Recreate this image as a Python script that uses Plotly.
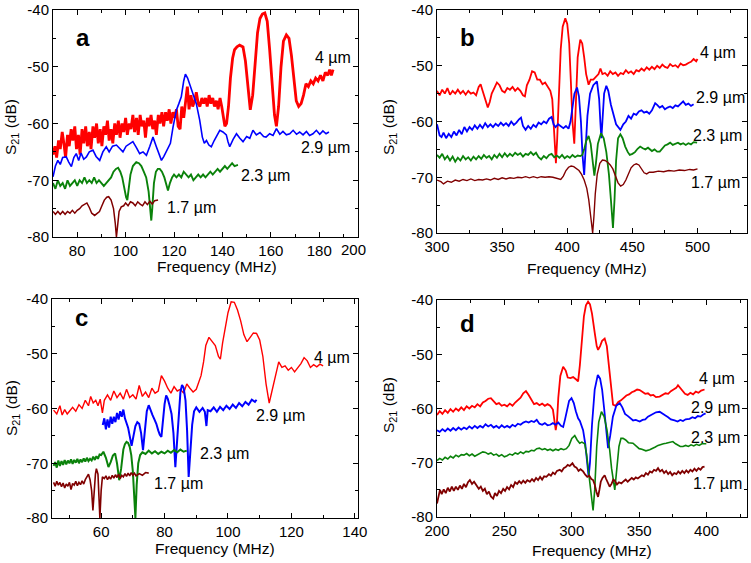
import plotly.graph_objects as go

W, H = 751, 563
FONT = "Arial, 'Liberation Sans', Helvetica, sans-serif"

RED = "#ff0000"
BLUE = "#0000ff"
GREEN = "#0a820a"
DRED = "#800000"

# ---------------- data (frequency MHz, S21 dB) ----------------
# Panel a
a_red = [(70,-65.5),(70.8,-64),(71.5,-66),(72.3,-63),(73,-64.5),(73.8,-61.5),(74.5,-63.5),(75.2,-66),(76,-62),(76.7,-64),
         (77.5,-61),(78.2,-63),(79,-60.5),(79.7,-64.5),(80.5,-62),(81.2,-65.5),(82,-61),(82.7,-63.5),(83.5,-60.5),(84.2,-64),
         (85,-61.5),(85.7,-64.5),(86.5,-60.5),(87.2,-62.5),(88,-60),(88.7,-63.5),(89.5,-61),(90.2,-64),(91,-60.5),(91.7,-62),
         (92.5,-59.5),(93.2,-63),(94,-61),(94.7,-63.5),(95.5,-60),(96.2,-62),(97,-59.5),(97.7,-62.5),(98.5,-60),(99.2,-61.5),
         (100,-59),(100.7,-62),(101.5,-60),(102.2,-61),(103,-58.5),(103.7,-61.5),(104.5,-59),(105.2,-62),(106,-58.5),(106.7,-60.5),
         (107.5,-59.5),(108.2,-62.5),(109,-59),(109.7,-60.5),(110.5,-58.5),(111.2,-61),(112,-59.5),(112.7,-62),(113.5,-58.5),(114.2,-60),
         (115,-58),(115.7,-60.5),(116.5,-58),(117.2,-59.5),(118,-57.5),(118.7,-60),(119.5,-58),(120.2,-59),(121,-57.5),(121.7,-60.5),
         (122.5,-61),(123.2,-57),(124,-59),(124.7,-56.5),(125.5,-53.5),(126.2,-57.5),(127,-55),(127.7,-57),(128.5,-56),(129.2,-54.5),
         (130,-56.5),(130.7,-57),(131.5,-55.5),(132.2,-56.5),(133,-55.5),(133.7,-57),(134.5,-55),(135.2,-56.5),(136,-55.5),(136.7,-57),
         (137.5,-56),(138.2,-57.5),(139,-55.5),(139.7,-57),(140.3,-58.5),(141,-60.5),(141.7,-60),(142.5,-57),(143.3,-52),(144.2,-48.5),
         (145,-47),(146,-46.5),(147.1,-46.2),(148.5,-46.5),(149.5,-49),(150.5,-54),(151.5,-57.6),(152.5,-55),(153.5,-49),(154.5,-44),
         (155.5,-41.5),(156.5,-40.7),(157.5,-40.5),(158.5,-42),(159.5,-47),(160.5,-53),(161.5,-58.5),(162.3,-60.5),(163.2,-57),(164.2,-50),
         (165.2,-45.5),(166.4,-44.4),(167.5,-45),(168.5,-48),(169.5,-52.5),(170.5,-56),(171.5,-57),(172.5,-56.5),(173.5,-55),(174.5,-53),
         (175.5,-53.5),(176.5,-52.5),(177.5,-53),(178.5,-52),(179.5,-52.5),(180.5,-51.5),(181.5,-52.5),(182.5,-51),(183.5,-51.5),(184.3,-50.5),
         (185,-51.5),(185.7,-50.5)]
a_blue = [(70,-69.4),(71,-67.5),(72,-66.5),(73,-67.2),(74,-66),(75.5,-65.9),(76.5,-66.8),(77.6,-67.6),(78.6,-66),(79.6,-65.3),
          (80.6,-66.5),(81.6,-65.2),(82.7,-66.3),(83.8,-65.9),(85,-65),(86.5,-64.7),(87.8,-65.8),(89.3,-66.5),(90.6,-65),(92,-64.1),
          (93.2,-65),(94.6,-64),(96.2,-63.8),(97.6,-64.5),(98.9,-65),(100.2,-64),(101.6,-63.6),(103,-63.2),(104.4,-64.2),(105.8,-65.3),
          (107.2,-65),(108.6,-65.6),(110,-64),(111.3,-62.4),(112.7,-64.1),(113.8,-65.5),(114.8,-66.5),(115.8,-65.8),(116.8,-65),(117.7,-64.2),
          (118.5,-63.5),(119.6,-60.6),(121,-57.6),(122,-56.5),(123,-55.3),(124,-52.5),(124.7,-51.3),(125.6,-52),(126.5,-53.2),(127.8,-54.8),
          (129.2,-56.5),(130.6,-59.4),(131.7,-62.4),(132.5,-63.5),(133.4,-63),(134.4,-63.8),(135.4,-64.1),(136.6,-63),(137.8,-62),(138.9,-61.2),
          (140.2,-61.5),(141.6,-62),(142.3,-63.2),(143,-64.1),(144.4,-62.8),(145.8,-61.8),(147.2,-62.6),(148.5,-63.2),(150,-62.3),(151.3,-62.6),
          (152.6,-61.2),(154,-62),(155.5,-61.6),(157,-62.3),(158,-62.4),(159.5,-61.8),(160.9,-62.1),(162.3,-60.9),(163.7,-61.9),(165,-61.4),
          (166.4,-62),(167.8,-61.8),(169.2,-61.2),(170.6,-61.9),(171.9,-61.5),(173.3,-62),(174.7,-61.4),(176,-62.1),(177.4,-61.8),(178.8,-61.2),
          (180.2,-61.9),(181.5,-61.3),(182.8,-61.8),(184,-61.5)]
a_green = [(70,-70.5),(71,-71.5),(72,-70),(73,-71),(74,-70.5),(75,-71.5),(76,-70),(77,-71),(78,-70.5),(79,-70),
           (80,-71),(81,-70),(82,-70.5),(83,-69.5),(84,-70.5),(85,-70),(86,-70.5),(87,-69.5),(88,-70.5),(89,-70),
           (90,-70.5),(91,-71),(92,-70.5),(93,-70),(94,-69.5),(95,-68.5),(96,-68),(96.9,-67.8),(97.8,-68.5),(98.6,-69.5),
           (99.4,-71.5),(100.2,-73),(100.7,-73.5),(101.2,-72),(102,-69),(103,-67.5),(104.4,-66.8),(105.5,-67),(106.5,-67.5),(107.5,-68.5),
           (108.5,-69.5),(109.5,-72),(110.2,-75.5),(110.6,-77.1),(111,-75),(111.7,-70.5),(112.5,-68.5),(113.3,-68),(114.1,-68),(115,-68.5),
           (116,-69.5),(116.8,-71),(117.5,-71.8),(118.3,-70.5),(119.2,-69.5),(120,-69),(121,-69.5),(122,-69),(123,-69.5),(124,-68.5),
           (125,-69),(126,-69.5),(127,-69),(128,-70),(129,-69.5),(130,-69),(131,-69.5),(132,-69),(133,-69.5),(134,-69),
           (135,-68.5),(136,-69),(137,-68.5),(138,-68),(139,-68.5),(140,-68),(141,-67.5),(142,-68),(143,-67.5),(144,-67),
           (145,-67.5),(146.4,-67.3)]
a_dred = [(70,-75.5),(71,-76),(72,-75.5),(73,-76),(74,-75.5),(75,-76),(76,-75.5),(77,-75.8),(78,-75.3),(79,-75.8),
          (80,-75.3),(81,-75),(82,-74.5),(83,-74.2),(84,-74),(85,-74.8),(86,-75.8),(87.2,-76.2),(88.2,-75.8),(89.2,-75.5),
          (90.2,-74.5),(91.2,-73.5),(92.2,-73),(93,-72.9),(94,-73.5),(95,-75),(95.7,-77.5),(96.2,-80),(96.7,-78),(97.3,-75.5),
          (98.2,-74.7),(99.2,-74.5),(100,-74),(101,-74.5),(102,-73.8),(103,-74),(104,-74.5),(105,-73.8),(106,-74.2),(107,-74.5),
          (108,-73.8),(109,-74.3),(110,-73.7),(111,-74.2),(112,-73.6),(113.4,-73.5)]

# Panel b
b_red = [(300,-54.5),(302,-55.3),(304,-54.3),(306,-55),(308,-54),(310,-55.2),(312,-54.5),(314,-55),(316,-54.3),(318,-55),
         (320,-54.5),(322,-55.2),(324,-54.5),(326,-55),(328,-54.8),(330,-55.3),(332,-53.8),(333.5,-53.3),(335,-54.5),(337,-56),
         (339,-57.5),(340.5,-56.5),(342,-55),(344,-54),(346,-53),(348,-53.5),(350,-54.5),(352,-54.8),(354,-54),(356,-54.3),
         (358,-53.8),(360,-54.5),(362,-54),(364,-54.5),(366,-55.3),(367.5,-55.5),(369,-53.5),(371,-52.5),(373,-51),(375,-51.2),
         (377,-52.5),(379,-52.5),(381,-53.3),(383,-53),(385,-53.8),(387,-54.5),(388.5,-56),(389.5,-60),(390.5,-65),(391.3,-67.5),
         (392.3,-63),(393.5,-55),(395,-47),(396.5,-43),(398.5,-41.5),(400,-42.5),(401.5,-46),(402.8,-53),(404,-60),(405.4,-64),
         (406.5,-57),(408,-48.5),(410,-45.3),(411.5,-46),(413,-48.5),(414.5,-51.5),(416.4,-53.4),(418,-52.5),(420,-52.5),(422,-52),
         (424,-51.5),(425.5,-50.5),(427,-51.5),(429,-51.3),(431,-51.8),(433,-51),(435,-51.5),(437,-51.2),(439,-51.8),(441,-51.3),
         (443,-51.5),(445,-50.8),(447,-51.3),(449,-51),(451,-51.5),(453,-50.8),(455,-51),(457,-50.5),(459,-50.9),(461,-50.3),
         (463,-50.7),(465,-50.2),(467,-50.6),(469,-50),(471,-50.4),(473,-49.8),(475,-50.2),(477,-50.4),(479,-49.7),(481,-50.1),
         (483,-49.9),(485,-50.3),(487,-49.6),(489,-49.9),(491,-49.8),(493,-49.5),(495,-49.3),(497,-48.8),(499,-49.2),(500,-48.8)]
b_blue = [(300,-60.5),(301,-61.5),(302,-62.5),(303.5,-62.8),(305,-62),(307,-63),(309,-62.2),(311,-62.8),(313,-61.8),(315,-62.5),
          (317,-61.5),(319,-62.3),(321,-61),(323,-61.8),(325,-61),(327,-61.5),(329,-60.7),(331,-61.3),(333,-60.6),(335,-61.2),
          (337,-60.3),(339,-61),(341,-60.5),(343,-61),(345,-60.4),(347,-60.8),(349,-60.2),(351,-60.7),(353,-60.3),(355,-60.8),
          (357,-60),(359,-60.6),(361,-60.2),(363,-59.6),(364.5,-59.3),(366,-60.8),(368,-61.5),(370,-60.8),(372,-61.3),(374,-60.6),
          (376,-61),(378,-60.2),(380,-60.5),(382,-60),(384,-60.3),(386,-59.5),(388,-59.2),(389.5,-60.5),(391,-61),(393,-60.5),
          (395,-60.8),(397,-61.2),(399,-60.8),(401,-61.3),(402.5,-60),(404,-57.5),(405.5,-55),(407.5,-53.9),(409,-55.5),(410.5,-60),
          (411.7,-66),(413,-69.6),(414,-66),(415.5,-59),(417.5,-55),(420,-53.5),(422.8,-52.8),(424.5,-56),(425.5,-60.5),(426.2,-63),
          (427,-60),(428.3,-55),(430,-53.6),(431.5,-54.5),(433.5,-57),(435.5,-59),(437.5,-60.5),(440.8,-61.5),(443,-60.5),(445,-60),
          (447,-59),(449,-59.5),(451,-58.6),(453,-58.8),(455,-58.2),(457,-58),(459,-58.4),(461,-58.2),(463,-58.6),(465,-58),
          (467.5,-56.7),(469,-57),(471,-57.5),(473,-57.2),(475,-57.8),(477,-57.5),(479,-57.3),(481,-57.6),(483,-57.1),(485,-57.3),
          (487,-56.9),(489,-56.4),(491,-57),(493,-56.8),(495,-57.2),(497,-56.9)]
b_green = [(300,-66),(302,-66.5),(304,-65.8),(306,-66.8),(308,-66.2),(310,-67),(312,-66.3),(314,-67.2),(316,-66.5),(318,-67),
           (320,-66.2),(322,-66.8),(324,-66.4),(326,-67),(328,-66.3),(330,-66.8),(332,-66.2),(334,-66.7),(336,-66),(338,-66.5),
           (340,-66.2),(342,-66.8),(344,-66),(346,-66.5),(348,-65.8),(350,-66.4),(352,-65.7),(354,-66.3),(356,-65.8),(358,-66.2),
           (360,-65.6),(362,-66),(364,-65.7),(366,-66.3),(368,-65.8),(370,-66),(372,-65.5),(374,-66),(376,-65.6),(378,-66.4),
           (380,-66.8),(382,-66.2),(384,-66.6),(386,-66),(388,-65.8),(390,-66.4),(392,-66.1),(394,-66.5),(396,-66),(398,-66.6),
           (400,-66.2),(402,-66.5),(404,-66),(406,-66.4),(408,-66.1),(410,-66.2),(411.5,-66),(413,-65),(414.5,-63.5),(416.4,-62.6),
           (418,-64),(419.5,-67),(420.8,-69.7),(422,-67.5),(423.5,-64),(425.9,-62.1),(428,-63),(430,-65.5),(432,-69.5),(433.5,-74),
           (435.1,-79.1),(436.3,-74),(437.5,-67),(439,-63),(440.8,-62.3),(442.5,-63),(444.5,-64.5),(446.5,-65.5),(448,-66),(450,-65.8),
           (452,-65.5),(454,-64.9),(456,-64.5),(458,-64.8),(460,-65),(462,-64.7),(465,-65.3),(467,-65),(469,-65.4),(471,-65.4),
           (473,-64.8),(475,-64.3),(477,-64.1),(479,-63.8),(481,-64.2),(483,-64),(485,-63.8),(487,-64.1),(489,-63.9),(491,-64.2),
           (493,-63.9),(495,-64.1),(497,-63.7),(499.7,-63.8)]
b_dred = [(300,-70.5),(303,-70.8),(305,-71.2),(308,-70.7),(311,-70.9),(314,-70.5),(317,-70.7),(320,-70.4),(323,-70.6),(326,-70.3),
          (329,-70.6),(332,-70.4),(335,-70.5),(338,-70.3),(341,-70.5),(344,-70.2),(347,-70.4),(350,-70.1),(353,-70.3),(356,-70.1),
          (359,-70.2),(362,-70),(365,-70.1),(368,-69.9),(371,-70.1),(374,-69.9),(377,-70.1),(380,-69.9),(383,-70),(386,-69.9),
          (389,-70),(392,-70.2),(395,-70.4),(397,-69.8),(399,-68.8),(401,-68.2),(403,-68),(405,-68.1),(407,-68.4),(409,-68.8),
          (411,-69.5),(413,-70.5),(415,-72),(416.5,-74),(418,-77),(419.5,-80),(420.5,-77),(421.5,-73),(423,-69.5),(425,-67.5),
          (427,-66.9),(429,-67),(431,-67.3),(433,-67.8),(435,-68.5),(437,-69.8),(439,-71),(441,-71.6),(443,-71.3),(445,-70.5),
          (447,-69.3),(449,-68.3),(451,-67.8),(453,-67.6),(455,-67.8),(457,-68.5),(459,-69.2),(461,-69.4),(463,-69.1),(466,-69.1),
          (470,-68.9),(474,-69),(478,-68.8),(482,-68.9),(486,-68.7),(490,-68.8),(494,-68.6),(497,-68.7),(500,-68.5)]

# Panel c
c_red = [(45,-60.3),(46,-61),(47,-59.5),(47.7,-61.2),(48.5,-60.2),(49.3,-61),(50,-60.5),(51,-59.8),(52,-60.5),(53,-59.3),
         (54,-60),(55,-58.5),(56,-59.5),(56.7,-57.8),(57.5,-59),(58.3,-58.5),(59,-59.5),(59.7,-58.3),(60.4,-60.8),(61,-58.5),
         (62,-57.5),(63,-58.5),(64,-56.8),(65,-58),(66,-57.2),(67,-58.3),(68,-56.5),(69,-58),(70,-57.5),(71,-58.3),
         (72,-55.8),(73,-57.8),(74,-57),(75,-58),(76,-56.3),(77,-57.2),(78,-56.8),(79,-54),(80,-55),(81,-56.3),
         (82,-57.2),(83,-56),(84,-56.8),(85,-56.5),(86,-57.2),(87,-55.5),(88,-56.3),(89,-57),(90,-56.5),(90.8,-55),
         (91.5,-54),(92.3,-51.5),(93,-48.5),(94,-47),(95,-47.8),(96,-48.5),(97,-50.5),(97.6,-51),(98.3,-48),(99,-45.5),
         (100,-42.5),(101,-40.5),(102,-40.6),(103,-42),(104,-44),(105,-46.5),(106,-47.8),(107,-47),(108,-46.2),(109,-46.3),
         (110,-47.5),(111,-50.5),(112,-55.5),(113,-59),(114,-56.5),(115,-54.5),(116,-51.5),(117,-52.5),(118,-52.2),(119,-53),
         (120,-52.5),(121,-53.3),(122,-52.5),(123,-51.8),(124,-50.7),(125,-51.3),(126,-52.5),(127,-52),(128,-52.4),(129,-51.9),
         (130,-52.2)]
c_blue = [(60.5,-63),(61,-61.8),(61.5,-63.8),(62,-62),(62.5,-63.5),(63,-61.5),(63.5,-62.8),(64,-61.5),(64.5,-62.5),(65,-60.8),
          (65.5,-62),(66,-60.5),(66.5,-61.5),(67,-60.2),(67.5,-61.8),(68,-62.5),(68.5,-63.5),(69,-65),(69.6,-66.8),(70.2,-65),
          (70.8,-63.2),(71.4,-62.5),(72,-62.8),(72.6,-64.5),(73.2,-67.6),(73.8,-64),(74.4,-60.5),(75,-59.4),(75.6,-60.5),(76.2,-61.2),
          (76.8,-62),(77.4,-62.8),(78,-64),(78.5,-64.8),(79,-65.2),(79.5,-62),(80,-59.2),(80.5,-57.6),(81,-58.2),(81.6,-59.5),
          (82.2,-61),(82.8,-64.5),(83.4,-70.7),(84,-65.5),(84.6,-60),(85,-57),(85.5,-55.7),(86,-56.2),(86.6,-58.5),(87.1,-64),
          (87.6,-72.5),(88.1,-68),(88.7,-63),(89.3,-60.5),(90,-59.8),(91,-60.6),(92,-59.9),(92.7,-60.6),(93.2,-63.2),(93.6,-60.3),
          (94.5,-60.5),(95.5,-59.8),(96.5,-60.6),(97.5,-59.7),(98.5,-60.3),(99.5,-59.5),(100.5,-60.1),(101.5,-59.3),(102.5,-59.9),(103.5,-59),
          (104.5,-59.6),(105.5,-58.8),(106.5,-59.3),(107.5,-58.4),(108.5,-58.8),(109,-58.4)]
c_green = [(45,-70.5),(45.5,-69.8),(46,-70.8),(46.5,-69.5),(47,-70.5),(47.5,-69.6),(48,-70.3),(48.5,-69.4),(49,-70.2),(49.5,-69.5),
           (50,-70),(50.5,-69.3),(51,-70.1),(51.5,-69.4),(52,-69.9),(52.5,-69.2),(53,-70),(53.5,-69.3),(54,-69.8),(54.5,-69.1),
           (55,-69.7),(55.5,-69),(56,-69.6),(56.5,-69.2),(57,-69.5),(57.5,-68.8),(58,-69.4),(58.5,-68.7),(59,-69.2),(59.5,-68.4),
           (60,-68.5),(60.7,-67.9),(61.5,-69),(62.3,-70.7),(63,-69.8),(63.7,-68.6),(64.4,-68.2),(65,-70),(65.7,-73.1),(66.3,-71),
           (67,-67.5),(67.5,-66.5),(68,-66.1),(68.5,-66.3),(69,-67),(69.5,-68.5),(70,-71.5),(70.5,-76),(70.8,-80),(71.2,-74),
           (71.7,-70),(72.3,-68.5),(73,-68),(74,-68.3),(75,-67.7),(76,-68.2),(77,-67.8),(78,-68.3),(79,-67.9),(80,-68.2),
           (81,-67.7),(82,-68.1),(83,-67.6),(84,-68),(85,-67.5),(86,-67.9),(87,-67.7)]
c_dred = [(45,-73.5),(45.5,-74.2),(46,-73.3),(46.5,-74),(47,-73.5),(47.5,-74.3),(48,-73.6),(48.5,-74.5),(49,-73.8),(49.5,-74.2),
          (50,-73.5),(50.5,-74.8),(51,-73.7),(51.5,-74),(52,-73.3),(52.5,-74.1),(53,-73.5),(53.5,-73.9),(54,-73.2),(54.5,-73.8),
          (55,-73),(55.5,-72.5),(56,-72),(56.5,-73),(57,-75),(57.4,-78.6),(57.8,-75),(58.2,-72),(58.5,-71),(59,-72),
          (59.3,-76),(59.6,-80),(60,-75),(60.4,-72.5),(61,-72.8),(61.5,-72.3),(62,-73),(62.5,-72.5),(63,-72.9),(63.5,-72.2),
          (64,-72.7),(64.5,-72.1),(65,-72.6),(65.5,-72),(66,-72.8),(66.5,-72.2),(67,-72.5),(67.5,-71.9),(68,-72.4),(68.5,-71.8),
          (69,-72.3),(69.5,-71.7),(70,-72.2),(70.5,-71.8),(71,-72.3),(72,-71.9),(73,-72.2),(74,-71.7),(75,-71.8)]

# Panel d
d_red = [(200,-61.2),(202,-60.5),(204,-61),(206,-60.3),(208,-60.8),(210,-60.1),(212,-60.6),(214,-60),(216,-60.4),(218,-59.8),
         (220,-60.3),(222,-59.6),(224,-60),(226,-59.5),(228,-59.8),(230,-59.2),(232,-59.6),(234,-58.9),(236,-58.6),(238,-58.2),
         (240,-58.1),(242,-58.6),(244,-59.2),(246,-59),(248,-59.5),(250,-59.3),(252,-59.6),(254,-59.1),(256,-59.5),(258,-58.9),
         (260,-58.5),(262,-58),(264,-57.2),(266,-56.8),(268,-57.5),(270,-58.5),(272,-59.2),(274,-59),(276,-59.4),(278,-59.1),
         (280,-59.5),(282,-59.2),(284,-59.5),(286,-60.2),(287,-62),(288.1,-64),(289,-62.5),(290,-58),(291.5,-54),(293.6,-52.3),
         (295.5,-53),(297,-54.3),(299,-54.4),(301,-54.2),(303.5,-54.7),(304.7,-55),(306,-52),(307.5,-47),(309,-43),(310.5,-41),
         (312.1,-40.3),(313.5,-40.8),(315,-42.5),(317,-46),(318.5,-48.5),(319.5,-49.2),(321,-48.5),(322.5,-47.5),(324.4,-47.1),(326,-48.5),
         (327.5,-52),(329,-56),(330.6,-59.3),(332.5,-59.5),(334.5,-58.8),(336.5,-58.5),(338.5,-58),(340.5,-57.6),(342.5,-57.4),(344.5,-57),
         (346.5,-56.8),(348.5,-56.5),(350.4,-56.6),(352.5,-56.9),(354.5,-57.3),(356.5,-57.2),(358.5,-57.6),(360.5,-57.5),(362.5,-57.9),(365.2,-57.8),
         (367.5,-57.4),(369.5,-57.2),(371.5,-57.3),(373.5,-56.8),(375.5,-56.5),(377.5,-56.2),(378.8,-55.7),(380.5,-56.3),(382.5,-56.8),(384,-57.3),
         (386,-57.5),(388,-57.1),(390,-57.4),(392,-56.9),(394,-57.1),(396,-56.7),(398.5,-56.5)]
d_blue = [(200,-64),(202,-64.3),(204,-63.8),(206,-64.2),(208,-63.7),(210,-64.1),(212,-63.6),(214,-64),(216,-63.5),(218,-63.9),
          (220,-63.5),(222,-63.8),(224,-63.3),(226,-63.7),(228,-63.2),(230,-63.6),(232,-63.2),(234,-63.5),(236,-62.9),(238,-63.3),
          (240,-63),(242,-63.5),(244,-63.2),(246,-63.6),(248,-63.1),(250,-63.5),(252,-63.2),(254,-63.5),(256,-63),(258,-63.3),
          (260,-62.8),(262,-63),(264,-62.6),(266,-62.4),(268,-62.6),(270,-62.3),(272,-62.5),(274,-62.1),(276,-62.8),(278,-63),
          (280,-62.7),(282,-63.1),(284,-63),(286,-62.7),(288,-63),(290,-62.6),(292,-63.2),(293.6,-63.4),(295,-62),(296.5,-60),
          (298,-58.6),(299.8,-58.1),(301.5,-59),(303,-60.5),(304.7,-61.8),(306,-62.3),(308.4,-64),(310,-66.5),(311.5,-70),(312.5,-72.6),
          (313.5,-70),(315,-63),(317,-56.5),(319.3,-53.8),(321,-54.5),(322.5,-56.5),(324,-60),(325.5,-64),(326.9,-67.3),(328.5,-65),
          (330.5,-61.5),(333,-59.5),(335.6,-59),(337.5,-59.8),(339.5,-61),(341.7,-61.4),(343.5,-61.8),(345.5,-62.2),(347.5,-62.1),(350.4,-62.4),
          (352.5,-62.1),(354.5,-62),(356.5,-61.5),(358.5,-61.2),(360.5,-61),(362.5,-60.7),(365.2,-60.6),(367.5,-60.9),(369.5,-61.3),(371.5,-61.6),
          (373.5,-62),(376.3,-62.2),(378.5,-62.4),(380.5,-62.1),(382.5,-62.3),(384.5,-62),(387.4,-61.9),(389.5,-61.6),(391.5,-61.8),(393.5,-61.4),
          (395.5,-61.5),(397.5,-61.1),(399.3,-60.9)]
d_green = [(200,-69.6),(202,-69.2),(204,-69.5),(206,-69),(208,-69.3),(210,-68.8),(212,-69.1),(214,-68.6),(216,-68.9),(218,-68.5),
           (220,-68.6),(222,-68.3),(224,-68.7),(226,-68.4),(228,-68.8),(230,-68.5),(232,-68.3),(234,-68),(236,-68.1),(238,-68.4),
           (240,-68.2),(242,-68.6),(244,-68.4),(246,-68.8),(248,-68.5),(250,-68.9),(252,-68.7),(254,-68.4),(256,-68.6),(258,-68.2),
           (260,-68.4),(262,-68),(264,-68.3),(266,-67.9),(268,-68),(270,-67.7),(272,-67.8),(274,-67.4),(276,-67.3),(278,-67.6),
           (280,-67.4),(282,-67.7),(284,-67.5),(286,-67.8),(288,-67.5),(290,-67.7),(292,-67.4),(294,-67.6),(296,-67.4),(298,-66.8),
           (300,-65.5),(302.2,-65),(304,-65.8),(305.9,-66.4),(307.5,-66.2),(309.6,-66.5),(311,-68.5),(312.5,-71.5),(314,-75),(315.8,-78.8),
           (317,-75),(318.5,-67),(320,-62.5),(322,-60.6),(324,-61.5),(326,-63.8),(328.1,-67.6),(329.5,-71),(331.9,-75),(333.5,-71),
           (335,-67),(336.5,-65.5),(338,-65.5),(340,-65.8),(342,-66.3),(345.4,-66.4),(348,-67),(350,-67.4),(352,-67.5),(355,-67.8),
           (357.8,-67.6),(360,-67.4),(362,-67.1),(364,-66.8),(366,-66.6),(368,-66.5),(370,-66.4),(372,-66.3),(375,-66.1),(377,-66.5),
           (379,-66.8),(380.5,-67),(382.5,-67),(384.5,-66.8),(386.5,-67),(388.5,-66.7),(390.5,-66.9),(392.5,-66.6),(394.5,-66.8),(396.5,-66.5),
           (399.8,-66.5)]
d_dred = [(200,-77.5),(201,-76.2),(202.2,-75),(203.5,-75.8),(205,-74.9),(206.5,-75.6),(208,-74.6),(209.5,-75.3),(211,-74.4),(212.5,-75.2),
          (214,-74.4),(215.5,-75),(217,-74.2),(218.5,-74.8),(220,-73.9),(221.5,-74.5),(223,-73.6),(224.4,-73.2),(226,-73.9),(227.5,-73.5),
          (229.4,-74.2),(231,-74.8),(232.5,-74.4),(234,-75.2),(235.5,-74.8),(237,-75.8),(238.5,-75.3),(240,-76.2),(241.7,-76.6),(243,-75.6),
          (244.5,-76.1),(246,-75.2),(247.5,-75.6),(249.1,-74.8),(250.5,-75.2),(252,-74.5),(253.5,-74.9),(255,-74.1),(256.5,-74.5),(258,-73.6),
          (259.5,-73.9),(261,-73.4),(262.5,-73.8),(264,-73.3),(265.5,-73.7),(267,-73.2),(268.9,-73.5),(270.5,-73),(272,-73.4),(273.5,-72.8),
          (275,-73.2),(276.5,-72.6),(278,-73.1),(279.5,-72.5),(281.2,-72.6),(283,-72.1),(284.5,-72.4),(286,-71.8),(287.5,-72.1),(289,-71.5),
          (291.1,-71.3),(292.5,-71.6),(294,-71),(295.5,-70.8),(297,-70.4),(298.5,-70.6),(300.5,-70.1),(302,-70.7),(303.5,-70.9),(305,-71.5),
          (306.5,-71.2),(308.4,-71.6),(310,-72.2),(311.5,-72.6),(313,-72.4),(314.5,-73),(315.8,-73.2),(317,-74),(318.2,-75.3),(319.5,-76.3),
          (320.5,-75),(321.5,-73.5),(322.8,-72.8),(324.4,-72.3),(325.5,-73),(326.8,-73.8),(328.1,-74.4),(329.5,-73.9),(330.8,-73.1),(331.9,-73.3),
          (333.5,-74),(335,-73.6),(336.8,-73.8),(338.5,-73.4),(340,-73.1),(341.5,-73.5),(343,-73.2),(344.5,-72.8),(346,-73.1),(347.5,-72.7),
          (349,-72.9),(350.4,-72.6),(352,-72.3),(353.5,-72.5),(355,-71.9),(356.5,-72.2),(358,-71.6),(359.5,-71.8),(361,-71.3),(362.5,-71.5),
          (364,-71),(365.5,-71.6),(367,-71.3),(368.5,-71.9),(370,-71.5),(371.5,-72.1),(373,-71.7),(374.5,-72.3),(376,-71.9),(377.6,-72.1),
          (379,-71.6),(380.5,-72),(382,-71.5),(383.5,-71.9),(385,-71.4),(386.5,-71.8),(388,-71.3),(389.5,-71.6),(391,-71.1),(392.5,-71.5),
          (394,-71),(395.5,-71.3),(397,-70.8),(398.5,-70.7)]

# tick labels
y_ticks = [-80, -70, -60, -50, -40]
y_tick_text = ["-80", "-70", "-60", "-50", "-40"]
a_xticks = [80, 100, 120, 140, 160, 180]
b_xticks = [300, 350, 400, 450, 500]
c_xticks = [60, 80, 100, 120, 140]
d_xticks = [200, 250, 300, 350, 400]
series_labels = ["4 µm", "2.9 µm", "2.3 µm", "1.7 µm"]

# ---------------- figure ----------------
def px(X, Y):
    return X / W, 1 - Y / H

panels = [
    dict(sfx="", xdom=(53, 358), ydom=(10, 237), xr=[70, 196], xt=a_xticks, mt0=70, md=10,
         curves=[(a_red, RED, 2.8), (a_blue, BLUE, 1.6), (a_green, GREEN, 1.9), (a_dred, DRED, 1.5)]),
    dict(sfx="2", xdom=(437, 747), ydom=(10, 233), xr=[300, 538], xt=b_xticks, mt0=300, md=25,
         curves=[(b_red, RED, 1.8), (b_blue, BLUE, 1.8), (b_green, GREEN, 1.8), (b_dred, DRED, 1.4)]),
    dict(sfx="3", xdom=(52, 358), ydom=(299, 518), xr=[44.5, 141], xt=c_xticks, mt0=50, md=10,
         curves=[(c_red, RED, 1.4), (c_blue, BLUE, 2.0), (c_green, GREEN, 2.0), (c_dred, DRED, 1.6)]),
    dict(sfx="4", xdom=(437, 747), ydom=(300, 517), xr=[200, 430], xt=d_xticks, mt0=200, md=25,
         curves=[(d_red, RED, 1.8), (d_blue, BLUE, 1.8), (d_green, GREEN, 1.6), (d_dred, DRED, 1.8)]),
]

fig = go.Figure()
layout = dict(width=W, height=H, autosize=False,
              margin=dict(l=0, r=0, t=0, b=0, pad=0, autoexpand=False),
              paper_bgcolor="white", plot_bgcolor="white", showlegend=False,
              font=dict(family=FONT, color="black", size=15))

for p in panels:
    s = p["sfx"]
    for data, col, lw in p["curves"]:
        fig.add_trace(go.Scatter(x=[d[0] for d in data], y=[d[1] for d in data], mode="lines",
                                 line=dict(color=col, width=lw), xaxis="x" + s, yaxis="y" + s,
                                 hoverinfo="skip"))
    common = dict(showline=True, linecolor="black", linewidth=1, mirror="ticks", ticks="inside",
                  ticklen=5, tickwidth=1, tickcolor="black", showgrid=False, zeroline=False,
                  automargin=False, tickfont=dict(family=FONT, size=15, color="black"))
    layout["xaxis" + s] = dict(common, domain=[p["xdom"][0] / W, p["xdom"][1] / W], range=p["xr"],
                               anchor="y" + s, tickmode="array", tickvals=p["xt"],
                               ticktext=[str(v) for v in p["xt"]],
                               minor=dict(ticks="inside", ticklen=3, tickcolor="black",
                                          tickmode="linear", tick0=p["mt0"], dtick=p["md"]))
    layout["yaxis" + s] = dict(common, domain=[1 - p["ydom"][1] / H, 1 - p["ydom"][0] / H], range=[-80, -40],
                               anchor="x" + s, tickmode="array", tickvals=y_ticks, ticktext=y_tick_text,
                               minor=dict(ticks="inside", ticklen=3, tickcolor="black",
                                          tickmode="linear", tick0=-80, dtick=5))

ann = []
def text(X, Y, t, size=16, bold=False, angle=0):
    x, y = px(X, Y)
    ann.append(dict(x=x, y=y, xref="paper", yref="paper", text=("<b>%s</b>" % t) if bold else t,
                    showarrow=False, xanchor="center", yanchor="middle", textangle=angle,
                    font=dict(family=FONT, size=size, color="black")))

# panel letters
for X, Y, t in [(83, 37, "a"), (467, 37, "b"), (81, 317, "c"), (467, 323, "d")]:
    text(X, Y, t, size=24, bold=True)

# series labels
label_pos = [
    [(333, 58), (325, 147), (265, 175), (191, 207)],
    [(718, 52), (720, 97), (717, 135), (715, 182)],
    [(332, 357), (280, 415), (224, 453), (178, 483)],
    [(717, 378), (715, 407), (715, 437), (717, 483)],
]
for pos in label_pos:
    for (X, Y), t in zip(pos, series_labels):
        text(X, Y, t, size=16)

# axis titles
for X, Y in [(217, 266), (587, 268), (215, 548), (592, 550)]:
    text(X, Y, "Frequency (MHz)", size=15.5)
for X, Y in [(12, 127), (390, 127), (12, 408), (390, 405)]:
    text(X, Y, "S<sub>21</sub> (dB)", size=15.5, angle=-90)

# stray "200" label at right end of panel a axis
text(353, 249, "200", size=15)

layout["annotations"] = ann
fig.update_layout(**layout)
fig.write_html("out.html", config={"displayModeBar": False, "staticPlot": True},
               post_script="document.body.style.margin='0';document.body.style.padding='0';"
                           "document.documentElement.style.overflow='hidden';")
